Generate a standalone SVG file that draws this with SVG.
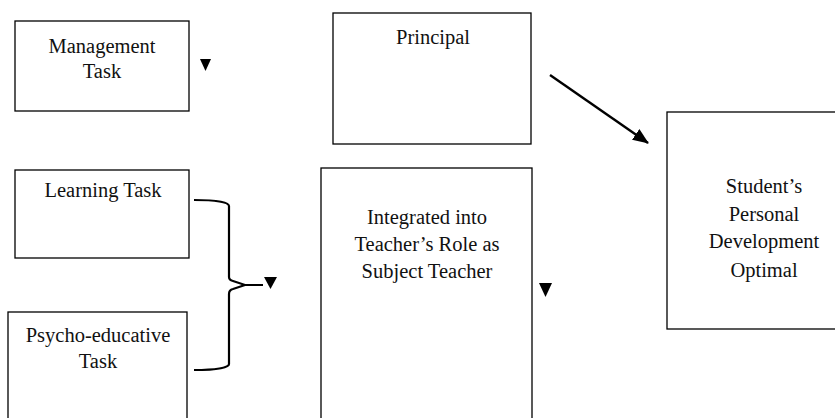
<svg xmlns="http://www.w3.org/2000/svg" width="835" height="418" viewBox="0 0 835 418">
<defs>
<style>
.box{fill:#fff;stroke:#000;stroke-width:1.3}
.t{font-family:"Liberation Serif","Times New Roman",serif;font-size:20.5px;fill:#111;text-anchor:middle}
.tri{fill:#000}
.ln{fill:none;stroke:#000;stroke-width:2.2}
</style>
<marker id="ah" markerWidth="16" markerHeight="13" refX="15" refY="6.5" orient="auto" markerUnits="userSpaceOnUse" viewBox="0 0 16 13">
<path d="M0,0 L16,6.5 L0,13 z" fill="#000"/>
</marker>
</defs>
<rect width="835" height="418" fill="#fff"/>
<g id="management">
<rect class="box" x="15" y="21" width="174" height="90"/>
<text class="t" x="102" y="53">Management</text>
<text class="t" x="102" y="78">Task</text>
</g>
<g id="principal">
<rect class="box" x="333" y="13" width="198" height="131"/>
<text class="t" x="433" y="44">Principal</text>
</g>
<g id="learning">
<rect class="box" x="15" y="170" width="174" height="88"/>
<text class="t" x="103" y="197">Learning Task</text>
</g>
<g id="psycho">
<rect class="box" x="8" y="312" width="179" height="120"/>
<text class="t" x="98" y="342">Psycho-educative</text>
<text class="t" x="98" y="368">Task</text>
</g>
<g id="integrated">
<rect class="box" x="321" y="168" width="211" height="270"/>
<text class="t" x="427" y="224">Integrated into</text>
<text class="t" x="427" y="251">Teacher’s Role as</text>
<text class="t" x="427" y="278">Subject Teacher</text>
</g>
<g id="student">
<rect class="box" x="667" y="112" width="180" height="217"/>
<text class="t" x="764" y="193">Student’s</text>
<text class="t" x="764" y="221">Personal</text>
<text class="t" x="764" y="248">Development</text>
<text class="t" x="764" y="277">Optimal</text>
</g>
<g id="connectors">
<path class="ln" d="M194,200 C215,200 229,202 229,206 L229,277 Q229,280 233,281 L245,285 L263,285 M245,285 L233,289 Q229,290 229,294 L229,364 C229,368 215,370 194,370"/>
<polygon class="tri" points="200,59 211,59 205.5,71"/>
<polygon class="tri" points="264,277 277,277 270.5,289"/>
<polygon class="tri" points="539,283 552,283 545.5,297"/>
<line class="ln" x1="550" y1="75" x2="648" y2="143" marker-end="url(#ah)" style="stroke-width:2.4"/>
</g>
</svg>
